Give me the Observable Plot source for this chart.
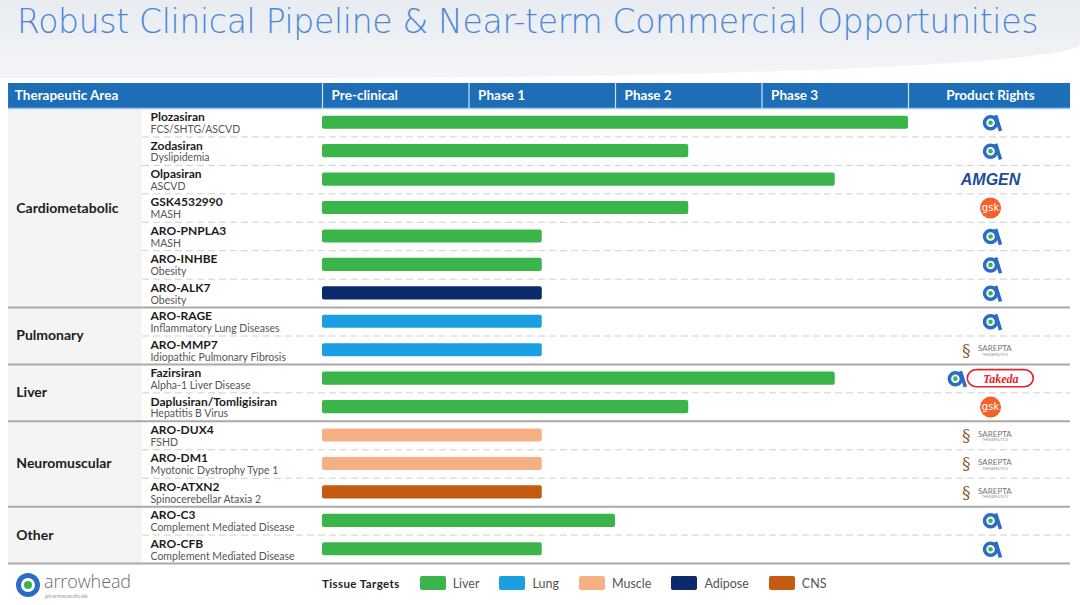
<!DOCTYPE html>
<html><head><meta charset="utf-8">
<script src="https://cdn.jsdelivr.net/npm/d3@7"></script>
<script src="https://cdn.jsdelivr.net/npm/@observablehq/plot@0.6"></script>
<style>
body{margin:0;width:1080px;height:605px;overflow:hidden;background:#fff;font-family:Lato,"Open Sans",sans-serif;position:relative}
#title{position:absolute;left:0;top:0;width:1080px;height:78px;background:linear-gradient(#e8ebf0,#f3f5f8);border-bottom-right-radius:70% 34px;}
#title h1{margin:0;position:absolute;left:17px;top:2px;font-weight:200;font-size:33px;line-height:normal;color:#4a87d6;white-space:nowrap;font-family:"DejaVu Sans",sans-serif}
#chart{position:absolute;left:0;top:80px}
#legend{position:absolute;left:322px;top:575px;display:flex;align-items:center;font-size:12.5px;color:#555;height:16px}
#legend .lab{font-weight:bold;color:#222;font-size:11.5px;margin-right:20px;letter-spacing:0.4px}
#legend .sw{width:26px;height:14px;border-radius:2px;margin-right:7px}
#legend .nm{margin-right:20px}
#logo{position:absolute;left:16px;top:572px;height:26px;width:130px}
#logo .ring{position:absolute;left:0;top:1px;width:14px;height:14px;border:5px solid #2b6cc4;border-radius:50%;}
#logo .dot{position:absolute;left:8px;top:9px;width:8px;height:8px;background:#3cb44b;border-radius:50%}
#logo .t1{position:absolute;left:28px;top:0px;font-size:18px;line-height:18px;color:#6b6b6b;font-family:"Open Sans";font-weight:300;letter-spacing:-0.1px}
#logo .t2{position:absolute;left:29px;top:20px;font-size:6px;line-height:7px;color:#999;white-space:nowrap}
</style></head>
<body>
<div id="title"><h1 id="h1">Robust Clinical Pipeline &amp; Near-term Commercial Opportunities</h1></div>
<div id="chart"></div>
<div id="logo"><div class="ring"></div><div class="dot"></div><div class="t1">arrowhead</div><div class="t2">pharmaceuticals</div></div>
<div id="legend"></div>
<script>
// ---- data ----
const areas = ["Cardiometabolic","Pulmonary","Liver","Neuromuscular","Other"];
const drugs = ["Plozasiran","Zodasiran","Olpasiran","GSK4532990","ARO-PNPLA3","ARO-INHBE","ARO-ALK7","ARO-RAGE","ARO-MMP7","Fazirsiran","Daplusiran/Tomligisiran","ARO-DUX4","ARO-DM1","ARO-ATXN2","ARO-C3","ARO-CFB"];
const indications = ["FCS/SHTG/ASCVD","Dyslipidemia","ASCVD","MASH","MASH","Obesity","Obesity","Inflammatory Lung Diseases","Idiopathic Pulmonary Fibrosis","Alpha-1 Liver Disease","Hepatitis B Virus","FSHD","Myotonic Dystrophy Type 1","Spinocerebellar Ataxia 2","Complement Mediated Disease","Complement Mediated Disease"];
const drugArea = ["Cardiometabolic","Cardiometabolic","Cardiometabolic","Cardiometabolic","Cardiometabolic","Cardiometabolic","Cardiometabolic","Pulmonary","Pulmonary","Liver","Liver","Neuromuscular","Neuromuscular","Neuromuscular","Other","Other"];
// progress in phase units (0 = start of Pre-clinical, 4 = end of Phase 3)
const progress = [4,2.5,3.5,2.5,1.5,1.5,1.5,1.5,1.5,3.5,2.5,1.5,1.5,1.5,2,1.5];
const tissue = ["Liver","Liver","Liver","Liver","Liver","Liver","Adipose","Lung","Lung","Liver","Liver","Muscle","Muscle","CNS","Liver","Liver"];
const rights = [["Arrowhead"],["Arrowhead"],["Amgen"],["GSK"],["Arrowhead"],["Arrowhead"],["Arrowhead"],["Arrowhead"],["Sarepta"],["Arrowhead","Takeda"],["GSK"],["Sarepta"],["Sarepta"],["Sarepta"],["Arrowhead"],["Arrowhead"]];
const phases = ["Pre-clinical","Phase 1","Phase 2","Phase 3"];
const tissueNames = ["Liver","Lung","Muscle","Adipose","CNS"];
const tissueColors = ["#3bb54a","#1a9fe2","#f5b183","#0b2a6b","#c55a11"];

// ---- layout constants (phase units / row units) ----
const AREA_LEFT = -2.143, DRUG_LEFT = -1.229, RIGHT_EDGE = 5.106, RIGHTS_C = 4.56;
const AREA_X = -2.09, DRUG_X = -1.174, HEAD_TOP = -0.88;
const BLUE = "#1d6db7", ALOGO = "#2b6cc4";

const rows = drugs.map((d,i)=>({i, drug:d, ind:indications[i], area:drugArea[i], value:progress[i], tissue:tissue[i]}));
const groups = areas.map(a=>{const idx=rows.filter(r=>r.area===a).map(r=>r.i);return {area:a,start:d3.min(idx),end:d3.max(idx)+1};});
const dashed = rows.filter(r=>r.i<rows.length-1 && drugArea[r.i+1]===r.area).map(r=>r.i+1);
const headStart = [{t:"Therapeutic Area",x:AREA_X-0.01}].concat(phases.map((p,k)=>({t:p,x:k+0.062})));
const headMid = [{t:"Product Rights",x:RIGHTS_C}];

// logo placements
const logos = [];
rights.forEach((rs,i)=>{
  if(rs.length===1) logos.push({i,kind:rs[0],x:RIGHTS_C});
  else { logos.push({i,kind:rs[0],x:RIGHTS_C-0.24}); logos.push({i,kind:rs[1],x:RIGHTS_C+0.07}); }
});
const L = k=>logos.filter(l=>l.kind===k);
const cy = d=>d.i+0.5;

const plot = Plot.plot({
  width:1080, height:488,
  x:{domain:[0,4], range:[322,908], axis:null},
  y:{domain:[0,16], range:[28,483], axis:null},
  color:{domain:tissueNames, range:tissueColors},
  style:{fontFamily:"Lato, 'Open Sans', sans-serif", background:"transparent", overflow:"visible"},
  marks:[
    // area column background
    Plot.rect(groups,{x1:()=>AREA_LEFT,x2:()=>DRUG_LEFT,y1:"start",y2:"end",fill:"#f4f4f4"}),
    // header
    Plot.rect([0],{x1:()=>AREA_LEFT,x2:()=>RIGHT_EDGE,y1:()=>HEAD_TOP,y2:()=>0,fill:BLUE}),
    Plot.ruleX([0,1,2,3,4],{y1:()=>HEAD_TOP,y2:()=>0,stroke:"#fff",strokeWidth:1.2,strokeOpacity:0.8}),
    Plot.ruleY([0],{x1:()=>AREA_LEFT,x2:()=>RIGHT_EDGE,stroke:"#9cc9ee",strokeWidth:1.5}),
    Plot.text(headStart,{x:"x",y:()=>HEAD_TOP/2,text:"t",textAnchor:"start",fill:"#fff",fontWeight:"bold",fontSize:13.5,letterSpacing:0.45}),
    Plot.text(headMid,{x:"x",y:()=>HEAD_TOP/2,text:"t",textAnchor:"middle",fill:"#fff",fontWeight:"bold",fontSize:13.5,letterSpacing:0.3}),
    // dashed separators
    Plot.ruleY(dashed,{y:d=>d,x1:()=>DRUG_LEFT,x2:()=>RIGHT_EDGE,stroke:"#cfcfcf",strokeDasharray:"7,4"}),
    // group separators
    Plot.ruleY(groups,{y:"end",x1:()=>AREA_LEFT,x2:()=>RIGHT_EDGE,stroke:"#a9a9a9",strokeWidth:2}),
    // labels
    Plot.text(groups,{x:()=>AREA_X,y:d=>(d.start+d.end)/2,text:"area",textAnchor:"start",fontWeight:"bold",fontSize:14,letterSpacing:0.5,fill:"#1c1c1c"}),
    Plot.text(rows,{x:()=>DRUG_X,y:d=>d.i+0.31,text:"drug",textAnchor:"start",fontWeight:"bold",fontSize:12,letterSpacing:0.35,fill:"#1c1c1c"}),
    Plot.text(rows,{x:()=>DRUG_X,y:d=>d.i+0.745,text:"ind",textAnchor:"start",fontSize:10.5,letterSpacing:0.15,fill:"#555"}),
    // bars
    Plot.rect(rows,{x1:()=>0,x2:"value",y1:d=>d.i+0.27,y2:d=>d.i+0.73,fill:"tissue",rx:2}),
    // Arrowhead logos
    Plot.link(L("Arrowhead"),{x1:d=>d.x+0.035,y1:d=>d.i+0.24,x2:d=>d.x+0.068,y2:d=>d.i+0.79,stroke:ALOGO,strokeWidth:3.5,strokeLinecap:"butt"}),
    Plot.dot(L("Arrowhead"),{x:"x",y:cy,r:6,stroke:ALOGO,strokeWidth:3.5,fill:"#fff"}),
    Plot.dot(L("Arrowhead"),{x:"x",y:cy,r:2.3,fill:"#3bb54a"}),
    // Amgen
    Plot.text(L("Amgen"),{x:"x",y:cy,text:()=>"AMGEN",fontSize:16,fontWeight:900,fill:"#1f4c9a",fontFamily:"'Liberation Sans', Arial",letterSpacing:-0.8,fontStyle:"italic"}),
    // GSK
    Plot.dot(L("GSK"),{x:"x",y:cy,r:10.5,fill:"#f2622a"}),
    Plot.text(L("GSK"),{x:"x",y:cy,text:()=>"gsk",fill:"#fff",fontSize:10,fontFamily:"'DejaVu Sans'"}),
    // Sarepta
    Plot.text(L("Sarepta"),{x:d=>d.x-0.165,y:cy,text:()=>"§",fill:"#8e5a2a",fontSize:17,fontFamily:"'DejaVu Serif'"}),
    Plot.text(L("Sarepta"),{x:d=>d.x+0.03,y:d=>d.i+0.45,text:()=>"SAREPTA",fill:"#7c6f80",fontSize:8,letterSpacing:1.6}),
    Plot.text(L("Sarepta"),{x:d=>d.x+0.03,y:d=>d.i+0.66,text:()=>"THERAPEUTICS",fill:"#9b8f9f",fontSize:3.6,letterSpacing:0.5}),
    // Takeda
    Plot.rect(L("Takeda"),{x1:d=>d.x-0.225,x2:d=>d.x+0.225,y1:d=>d.i+0.2,y2:d=>d.i+0.8,rx:9,fill:"#fff",stroke:"#e2242b",strokeWidth:1.6}),
    Plot.text(L("Takeda"),{x:"x",y:cy,text:()=>"Takeda",fill:"#e2242b",fontSize:12,fontWeight:"bold",fontStyle:"italic",fontFamily:"'Liberation Serif', serif"})
  ]
});
document.getElementById("chart").appendChild(plot);

// legend
const lg = document.getElementById("legend");
lg.innerHTML = `<span class="lab">Tissue Targets</span>` + tissueNames.map((n,k)=>`<span class="sw" style="background:${tissueColors[k]}"></span><span class="nm">${n}</span>`).join("");

// fit title width to reference span (17..1038) via letter spacing
const h = document.getElementById("h1");
const w = h.getBoundingClientRect().width;
const n = h.textContent.length;
h.style.letterSpacing = ((1021 - w)/n).toFixed(3)+"px";
</script>
</body></html>
